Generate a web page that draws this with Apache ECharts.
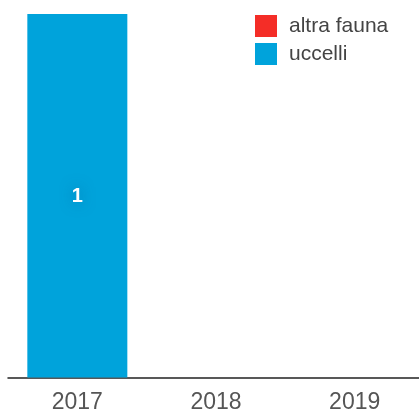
<!DOCTYPE html>
<html>
<head>
<meta charset="utf-8">
<style>
  html, body { margin: 0; padding: 0; background: #fff; }
  #chart { width: 419px; height: 412px; }
</style>
<script src="https://cdn.jsdelivr.net/npm/echarts@6/dist/echarts.min.js"></script>
</head>
<body>
<div id="chart"></div>
<script>
// Yearly counts, stacked by animal group
const years = ['2017', '2018', '2019'];
const altraFauna = [null, null, null];
const uccelli = [1, null, null];

const chart = echarts.init(document.getElementById('chart'), null, { renderer: 'canvas' });

const font = 'Liberation Sans, Arial, Helvetica, sans-serif';

chart.setOption({
  animation: false,
  grid: {
    left: 8, top: 14, width: 416, bottom: 34.5,
    containLabel: false,
    outerBoundsMode: 'none'
  },
  legend: {
    left: 255,
    top: 15,
    padding: 0,
    orient: 'vertical',
    itemWidth: 22,
    itemHeight: 22,
    itemGap: 6,
    icon: 'rect',
    textStyle: {
      fontFamily: font,
      fontSize: 21,
      color: '#444',
      padding: [3, 0, 0, 7]
    },
    data: ['altra fauna', 'uccelli']
  },
  xAxis: {
    type: 'category',
    data: years,
    axisLine: { lineStyle: { color: '#222', width: 1.5 } },
    axisTick: { show: false },
    axisLabel: {
      fontFamily: font,
      fontSize: 23,
      color: '#555',
      margin: 14
    }
  },
  yAxis: {
    type: 'value',
    min: 0,
    max: 1,
    show: false,
    splitLine: { show: false }
  },
  series: [
    {
      name: 'altra fauna',
      type: 'bar',
      stack: 'tot',
      barWidth: 100,
      itemStyle: { color: '#f42d27' },
      data: altraFauna
    },
    {
      name: 'uccelli',
      type: 'bar',
      stack: 'tot',
      barWidth: 100,
      itemStyle: { color: '#00a3db' },
      label: {
        show: true,
        position: 'inside',
        offset: [0, 1],
        color: '#fff',
        fontWeight: 'bold',
        fontSize: 20,
        fontFamily: font,
        textShadowColor: 'rgba(0,90,140,0.6)',
        textShadowBlur: 14
      },
      data: uccelli
    }
  ]
});
</script>
</body>
</html>
